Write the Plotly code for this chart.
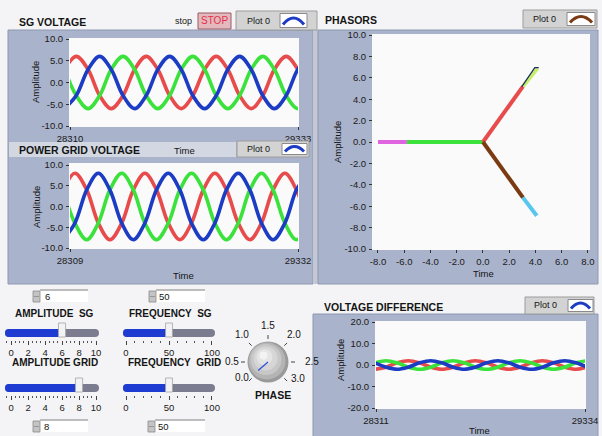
import math
import plotly.graph_objects as go

W, H = 602, 436
def X(p): return p / W
def Y(p): return 1 - p / H

# ---------------- data ----------------
sg_time = [28286, 28338, 28391, 28443, 28495, 28548, 28600, 28652, 28704, 28757, 28809,
           28861, 28914, 28966, 29018, 29071, 29123, 29175, 29227, 29280, 29332, 29384]
sg_red = [3, 6, 3, -3, -6, -3, 3, 6, 3, -3, -6, -3, 3, 6, 3, -3, -6, -3, 3, 6, 3, -3]
sg_green = [3, -3, -6, -3, 3, 6, 3, -3, -6, -3, 3, 6, 3, -3, -6, -3, 3, 6, 3, -3, -6, -3]
sg_blue = [-6, -3, 3, 6, 3, -3, -6, -3, 3, 6, 3, -3, -6, -3, 3, 6, 3, -3, -6, -3, 3, 6]

grid_time = [28279, 28331, 28384, 28436, 28488, 28541, 28593, 28645, 28697, 28750, 28802,
             28854, 28907, 28959, 29011, 29064, 29116, 29168, 29220, 29273, 29325, 29377]
grid_red = [4, 8, 4, -4, -8, -4, 4, 8, 4, -4, -8, -4, 4, 8, 4, -4, -8, -4, 4, 8, 4, -4]
grid_green = [4, -4, -8, -4, 4, 8, 4, -4, -8, -4, 4, 8, 4, -4, -8, -4, 4, 8, 4, -4, -8, -4]
grid_blue = [-8, -4, 4, 8, 4, -4, -8, -4, 4, 8, 4, -4, -8, -4, 4, 8, 4, -4, -8, -4, 4, 8]

vd_time = [28305, 28360, 28414, 28469, 28524, 28579, 28633, 28688, 28743, 28797,
           28852, 28907, 28961, 29016, 29071, 29126, 29180, 29235, 29290, 29344]
vd_red = [-2, -1, 1, 2, 1, -1, -2, -1, 1, 2, 1, -1, -2, -1, 1, 2, 1, -1, -2, -1]
vd_green = [1, 2, 1, -1, -2, -1, 1, 2, 1, -1, -2, -1, 1, 2, 1, -1, -2, -1, 1, 2]
vd_blue = [1, -1, -2, -1, 1, 2, 1, -1, -2, -1, 1, 2, 1, -1, -2, -1, 1, 2, 1, -1]

ph_magenta_x, ph_magenta_y = [-8, -5.8], [0, 0]
ph_green_x, ph_green_y = [-5.8, 0], [0, 0]
ph_red_x, ph_red_y = [0, 3.05], [0, 5.2]
ph_yg_x, ph_yg_y = [3.05, 4.15], [5.2, 6.9]
ph_navy_x, ph_navy_y = [2.95, 3.95, 4.25], [5.15, 6.95, 6.95]
ph_brown_x, ph_brown_y = [0, 3.05], [0, -5.2]
ph_cyan_x, ph_cyan_y = [3.05, 4.1], [-5.2, -6.9]

time_ticks_sg = [28310, 29333]
time_ticks_grid = [28309, 29332]
time_ticks_vd = [28311, 29334]
amp_ticks10 = [-10, -5, 0, 5, 10]
amp_ticks_ph = [-10, -8, -6, -4, -2, 0, 2, 4, 6, 8, 10]
ph_xticks = [-8, -6, -4, -2, 0, 2, 4, 6, 8]
amp_ticks20 = [-20, -10, 0, 10, 20]

amplitude_sg = 6
frequency_sg = 50
amplitude_grid = 8
frequency_grid = 50
amp_scale = [0, 2, 4, 6, 8, 10]
freq_scale = [0, 50, 100]
phase_value = 0.05
knob_labels = ["0.0", "0.5", "1.0", "1.5", "2.0", "2.5", "3.0"]
knob_values = [0, 0.5, 1.0, 1.5, 2.0, 2.5, 3.0]

# ---------------- style ----------------
RED, GREEN, BLUE = "#E84B4B", "#3BE23B", "#1C3CC4"
PANEL = "#A9B3CB"
PAGE = "#F4F4F6"
FONT = "Liberation Sans"

fig = go.Figure()

def line(xs, ys, color, width, xa, ya, spline=True):
    fig.add_trace(go.Scatter(x=xs, y=ys, mode="lines", xaxis=xa, yaxis=ya,
                             line=dict(color=color, width=width,
                                       shape="spline" if spline else "linear"),
                             hoverinfo="skip", showlegend=False))

for xa, ya, t, r, g, b in [("x", "y", sg_time, sg_red, sg_green, sg_blue),
                           ("x2", "y2", grid_time, grid_red, grid_green, grid_blue),
                           ("x4", "y4", vd_time, vd_red, vd_green, vd_blue)]:
    line(t, r, RED, 3.6, xa, ya)
    line(t, g, GREEN, 3.6, xa, ya)
    line(t, b, BLUE, 3.6, xa, ya)

line(ph_green_x, ph_green_y, GREEN, 4, "x3", "y3", False)
line(ph_magenta_x, ph_magenta_y, "#E064E0", 4, "x3", "y3", False)
line(ph_red_x, ph_red_y, RED, 4, "x3", "y3", False)
line(ph_yg_x, ph_yg_y, "#C6EE6C", 4, "x3", "y3", False)
line(ph_navy_x, ph_navy_y, "#1B2A66", 1.2, "x3", "y3", False)
line(ph_brown_x, ph_brown_y, "#7A3A12", 4, "x3", "y3", False)
line(ph_cyan_x, ph_cyan_y, "#58C6EE", 4, "x3", "y3", False)

# sliders as bars
AMP_RANGE = [-0.71, 10.35]
FREQ_RANGE = [-3.5, 103.5]
sliders = [("x5", "y5", amplitude_sg, AMP_RANGE), ("x6", "y6", frequency_sg, FREQ_RANGE),
           ("x7", "y7", amplitude_grid, AMP_RANGE), ("x8", "y8", frequency_grid, FREQ_RANGE)]
for xa, ya, v, rg in sliders:
    fig.add_trace(go.Bar(orientation="h", y=[0], x=[rg[1] - rg[0]], base=[rg[0]], width=[1],
                         marker=dict(color="#7C7C90", line=dict(width=0)),
                         xaxis=xa, yaxis=ya, hoverinfo="skip", showlegend=False))
    fig.add_trace(go.Bar(orientation="h", y=[0], x=[v - rg[0]], base=[rg[0]], width=[1],
                         marker=dict(color="#1E3CD2", line=dict(width=0)),
                         xaxis=xa, yaxis=ya, hoverinfo="skip", showlegend=False))

# ---------------- axes ----------------
tf = dict(family=FONT, size=9.5, color="#1A1A1A")
def ax(domain, rng, tickvals, ticktext, anchor, **kw):
    d = dict(domain=domain, range=rng, tickmode="array", tickvals=tickvals, ticktext=ticktext,
             ticks="outside", ticklen=3, tickwidth=1, tickcolor="#333", tickfont=tf,
             showgrid=False, zeroline=False, showline=False, anchor=anchor, fixedrange=True,
             ticklabelstandoff=1, automargin=False)
    d.update(kw)
    return d

def fmt(v):
    return f"{v:.1f}"

layout = dict(
    xaxis=ax([X(70), X(298)], [28310, 29333], time_ticks_sg, [str(v) for v in time_ticks_sg], "y"),
    yaxis=ax([Y(126), Y(39)], [-10, 10], amp_ticks10, [fmt(v) for v in amp_ticks10], "x"),
    xaxis2=ax([X(70), X(298)], [28309, 29332], time_ticks_grid, [str(v) for v in time_ticks_grid], "y2"),
    yaxis2=ax([Y(248), Y(165)], [-10, 10], amp_ticks10, [fmt(v) for v in amp_ticks10], "x2"),
    xaxis3=ax([X(373), X(589)], [-8.38, 8.08], ph_xticks, [fmt(v) for v in ph_xticks], "y3"),
    yaxis3=ax([Y(249), Y(35)], [-10, 10], amp_ticks_ph, [fmt(v) for v in amp_ticks_ph], "x3"),
    xaxis4=ax([X(376), X(585)], [28311, 29334], time_ticks_vd, [str(v) for v in time_ticks_vd], "y4"),
    yaxis4=ax([Y(408), Y(322)], [-20, 20], amp_ticks20, [fmt(v) for v in amp_ticks20], "x4"),
)
slider_geo = [("5", [5, 99], AMP_RANGE, amp_scale, 0.5, 337, 329, 340),
              ("6", [123, 215], FREQ_RANGE, freq_scale, 10, 337, 329, 340),
              ("7", [5, 99], AMP_RANGE, amp_scale, 0.5, 392, 384, 395),
              ("8", [123, 215], FREQ_RANGE, freq_scale, 10, 392, 384, 395)]
for n, xd, rg, sc, mdt, yb, yt, pos in slider_geo:
    layout["xaxis" + n] = ax([X(xd[0]), X(xd[1])], rg, sc, [str(v) for v in sc], "free",
                             position=Y(pos), ticklen=4, tickcolor="#444", ticklabelstandoff=0,
                             minor=dict(dtick=mdt, tick0=0, ticks="outside", ticklen=2,
                                        tickcolor="#555", showgrid=False))
    layout["yaxis" + n] = dict(domain=[Y(yb), Y(yt)], range=[-0.5, 0.5], visible=False,
                               anchor="x" + n, fixedrange=True, automargin=False)

# ---------------- shapes ----------------
shapes = []
def rect(x0, y0, x1, y1, fill, lc=None, lw=0, layer="below"):
    shapes.append(dict(type="rect", xref="paper", yref="paper", x0=X(x0), x1=X(x1),
                       y0=Y(y0), y1=Y(y1), fillcolor=fill, layer=layer,
                       line=dict(color=lc or fill, width=lw)))
def seg(x0, y0, x1, y1, color, w=1):
    shapes.append(dict(type="line", xref="paper", yref="paper", x0=X(x0), x1=X(x1),
                       y0=Y(y0), y1=Y(y1), line=dict(color=color, width=w), layer="above"))
def circ(cx, cy, r, fill, lc=None, lw=0):
    shapes.append(dict(type="circle", xref="paper", yref="paper", x0=X(cx - r), x1=X(cx + r),
                       y0=Y(cy + r), y1=Y(cy - r), fillcolor=fill, layer="above",
                       line=dict(color=lc or fill, width=lw)))

# panels
rect(8, 30, 313, 284, PANEL, "#8E98B2", 1)
rect(9, 142, 236, 157, "#D2D7E2")
rect(313, 30, 318, 284, "#C4C8D4")
rect(318, 30, 598, 284, PANEL, "#8E98B2", 1)
rect(313, 314, 598, 437, PANEL, "#8E98B2", 1)
# plot backgrounds
rect(69, 38, 299, 127, "#FAFAFA")
rect(69, 163, 299, 249, "#FAFAFA")
rect(372, 34, 590, 250, "#FAFAFA")
rect(375, 321, 586, 409, "#FAFAFA")

# legend buttons
def legend_btn(x0, y0, x1, y1, ix0, ix1, color):
    rect(x0, y0, x1, y1, "#D3D3D3", "#9C9C9C", 1, "above")
    rect(ix0, y0 + 2.5, ix1, y1 - 2.5, "#FFFFFF", "#8A8A8A", 1, "above")
    bx, tp = y1 - 5.5, y0 + 5.5
    path = (f"M {X(ix0 + 3)},{Y(bx)} Q {X((ix0 + ix1) / 2)},{Y(tp - 5)} {X(ix1 - 3)},{Y(bx)}")
    shapes.append(dict(type="path", xref="paper", yref="paper", path=path,
                       line=dict(color=color, width=3), layer="above"))

legend_btn(236, 11, 317, 30, 280, 307, BLUE)
legend_btn(523, 10, 597, 28, 567, 595, "#7A3A12")
legend_btn(237, 141, 309, 157, 282, 307, BLUE)
legend_btn(525, 297, 594, 314, 568, 593, BLUE)
# stop button
rect(198, 13, 231, 29, "#E3B9BD", "#9A5A62", 1, "above")

# spinners / numeric boxes
for sx, sy, bx1 in [(33, 291, 88), (149, 291, 205), (33, 421, 88), (148, 421, 205)]:
    rect(sx + 7, sy - 1, bx1, sy + 11, "#FFFFFF", None, 0, "above")
    seg(sx + 7, sy - 1, bx1, sy - 1, "#A8A8A8", 1.5)
    rect(sx, sy, sx + 7, sy + 11, "#C4C4C4", "#8A8A8A", 0.8, "above")
    seg(sx + 1, sy + 5.5, sx + 6, sy + 5.5, "#8A8A8A", 0.8)

# slider thumbs
for xa, v, hw, yc in [("x5", amplitude_sg, 0.42, 333), ("x6", frequency_sg, 4.0, 333),
                      ("x7", amplitude_grid, 0.42, 388), ("x8", frequency_grid, 4.0, 388)]:
    shapes.append(dict(type="rect", xref=xa, yref="paper", x0=v - hw, x1=v + hw,
                       y0=Y(yc + 4), y1=Y(yc - 10), fillcolor="#F2F2F2", layer="above",
                       line=dict(color="#A4A4A4", width=0.8)))

# knob
KX, KY = 268, 362
circ(KX, KY, 20.5, "#9A9A9A")
circ(KX - 1, KY - 1, 18.5, "#B4B4B4")
circ(KX - 2, KY - 2.5, 15.5, "#C7C7C7")
circ(KX - 2.5, KY - 3.5, 12, "#D6D6D6")
circ(KX - 3.5, KY - 5, 8, "#E4E4E4")
circ(KX - 4.5, KY - 6.5, 4, "#F3F3F3")
for v in knob_values:
    a = math.radians(225 - 90 * v)
    seg(KX + 23 * math.cos(a), KY - 23 * math.sin(a),
        KX + 27 * math.cos(a), KY - 27 * math.sin(a), "#444", 1)
pa = math.radians(225 - 90 * phase_value)
seg(KX, KY, KX + 13 * math.cos(pa), KY - 13 * math.sin(pa), "#2E50D8", 1.3)

# ---------------- text ----------------
anns = []
def txt(s, x, y, size=9.5, bold=False, xanchor="center", color="#141414", angle=0):
    anns.append(dict(text=f"<b>{s}</b>" if bold else s, x=X(x), y=Y(y), xref="paper",
                     yref="paper", showarrow=False, xanchor=xanchor, yanchor="middle",
                     textangle=angle, font=dict(family=FONT, size=size, color=color)))

txt("SG VOLTAGE", 17, 22, 10.5, True, "left")
txt("stop", 183, 21, 9)
txt("STOP", 214.5, 21, 10, False, "center", "#E3304A")
txt("Plot 0", 258, 21, 9)
txt("PHASORS", 323, 20, 10.5, True, "left")
txt("Plot 0", 544, 19, 9)
txt("POWER GRID VOLTAGE", 17, 150, 10.5, True, "left")
txt("Time", 184, 150, 9.5)
txt("Plot 0", 258, 149, 9)
txt("Amplitude", 36, 82, 9.5, angle=-90)
txt("Amplitude", 36, 207, 9.5, angle=-90)
txt("Time", 183, 275, 9.5)
txt("Amplitude", 338, 142, 9.5, angle=-90)
txt("Time", 483, 273, 9.5)
txt("VOLTAGE DIFFERENCE", 322, 307, 10.5, True, "left")
txt("Plot 0", 545, 305, 9)
txt("Amplitude", 340, 360, 9.5, angle=-90)
txt("Time", 479, 430, 9.5)

txt(str(amplitude_sg), 43, 296.5, 9.5, xanchor="left")
txt(str(frequency_sg), 157, 296.5, 9.5, xanchor="left")
txt(str(amplitude_grid), 42, 426.5, 9.5, xanchor="left")
txt(str(frequency_grid), 156, 426.5, 9.5, xanchor="left")
txt("AMPLITUDE  SG", 54, 313, 10, True)
txt("FREQUENCY  SG", 170, 313, 10, True)
txt("AMPLITUDE GRID", 55, 362, 10, True)
txt("FREQUENCY  GRID", 174, 362, 10, True)
txt("PHASE", 273, 395, 10.5, True)

knob_label_pos = [(242, 377), (232, 361), (242, 334), (268, 325), (294, 334), (312, 361), (298, 378)]
for lab, (lx, ly) in zip(knob_labels, knob_label_pos):
    txt(lab, lx, ly, 10)

fig.update_layout(**layout)
fig.update_layout(width=W, height=H, autosize=False, margin=dict(l=0, r=0, t=0, b=0, pad=0),
                  paper_bgcolor=PAGE, plot_bgcolor="rgba(0,0,0,0)", barmode="overlay",
                  barcornerradius=4, shapes=shapes, annotations=anns, showlegend=False)

fig.write_html("out.html", config={"displayModeBar": False},
               post_script="document.body.style.margin='0';document.body.style.overflow='hidden';")
